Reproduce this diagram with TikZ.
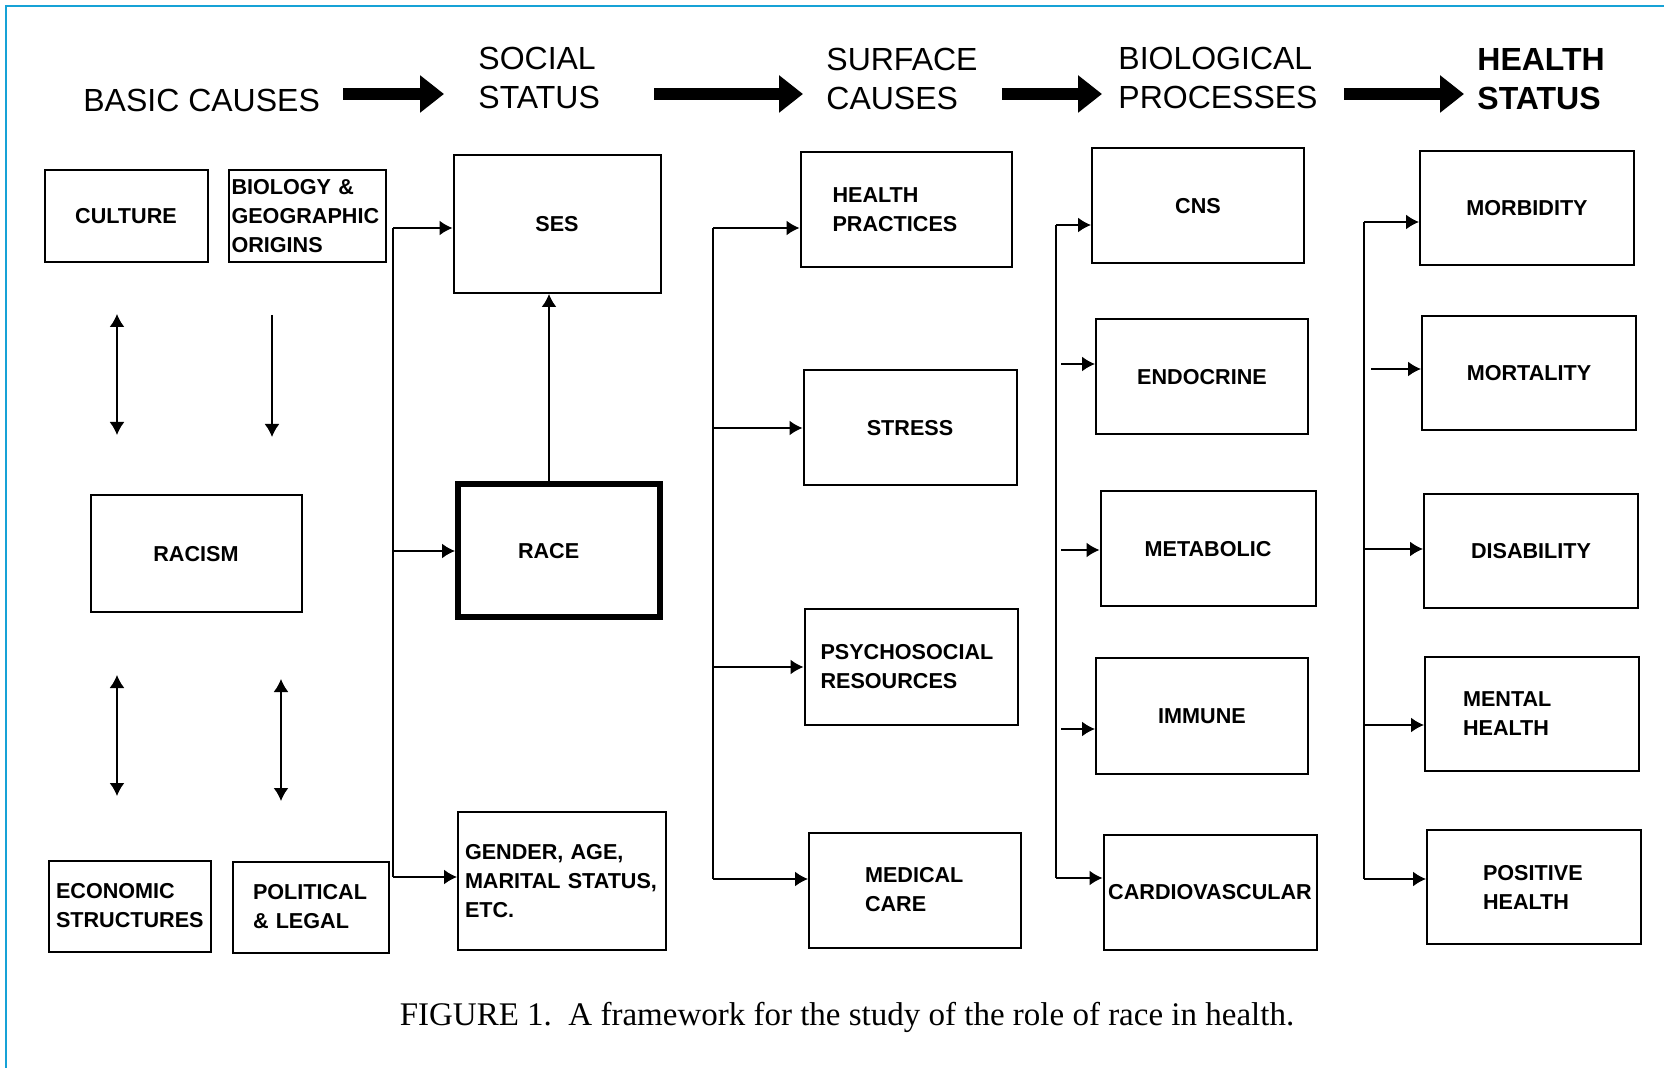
\documentclass[tikz,border=0pt]{standalone}
\usepackage{fontspec}
\setmainfont{Liberation Sans}
\newfontfamily\captionfont{Liberation Serif}
\usepackage{tikz}
\usetikzlibrary{shapes, arrows, arrows.meta, positioning}
\usepackage{xcolor}
\definecolor{framecyan}{RGB}{22,162,214}

\begin{document}
\begin{tikzpicture}[x=0.5pt, y=-0.5pt]
            \tikzstyle{entity} = [rectangle, minimum width=106pt, minimum height=57.5pt, text centered, draw=black, line width=1pt, font=\bfseries\fontsize{10.8}{14.5}\selectfont]
            \tikzstyle{cause} = [entity, minimum width=80pt, minimum height=46pt]
            \tikzstyle{outcome} = [entity, minimum width=107pt, minimum height=57pt]
            \tikzstyle{heading} = [inner sep=0pt, anchor=west, align=left, font=\fontsize{16}{19.5}\selectfont]
            \tikzstyle{arrow} = [line width=0.9pt, ->, >={Latex[length=6.5pt, width=7.5pt]}]
            \tikzstyle{bus} = [line width=0.9pt]
            \tikzstyle{bigarrow} = [line width=6pt, ->, >={Triangle[length=12pt, width=18pt]}]

            \useasboundingbox (0,0) rectangle (1664,1068);
            \draw [framecyan, line width=1.2pt] (6,1068) -- (6,6) -- (1664,6);

            \node (basic)[heading] at (83,100) {BASIC CAUSES};
            \node (social)[heading] at (478,77.5) {SOCIAL\\STATUS};
            \node (surface)[heading] at (826,79) {SURFACE\\CAUSES};
            \node (bio)[heading] at (1118,77.5) {BIOLOGICAL\\PROCESSES};
            \node (health)[heading, font=\bfseries\fontsize{16}{19.5}\selectfont] at (1477,79) {HEALTH\\STATUS};
            \coordinate (arrowline) at (0,94);
            \draw [bigarrow, shorten <=11.5pt, shorten >=17pt] (basic.east |- arrowline) -- (social.west |- arrowline);
            \draw [bigarrow, shorten <=27pt, shorten >=11.5pt] (social.east |- arrowline) -- (surface.west |- arrowline);
            \draw [bigarrow, shorten <=12pt, shorten >=8pt] (surface.east |- arrowline) -- (bio.west |- arrowline);
            \draw [bigarrow, shorten <=13pt, shorten >=6.5pt] (bio.east |- arrowline) -- (health.west |- arrowline);

            \node (culture)[cause, minimum width=81.5pt] at (126,216) {CULTURE};
            \node (biology)[cause, minimum width=78.5pt, align=left, text width=75.5pt, inner xsep=1.5pt] at (307,216) {BIOLOGY \&\\GEOGRAPHIC\\ORIGINS};
            \node (racism)[entity, minimum width=105.5pt, minimum height=58.5pt] at (196,554) {RACISM};
            \node (economic)[cause, minimum width=81pt, minimum height=45.5pt, align=left, text width=74pt, inner xsep=3.5pt] at (130,906) {ECONOMIC\\STRUCTURES};
            \node (political)[cause, minimum width=78pt, minimum height=45.5pt, align=left, text width=58pt, inner xsep=10pt] at (311,907) {POLITICAL\\\& LEGAL};
            \coordinate (cultureup) at (117,314);
            \coordinate (culturedown) at (117,435);
            \coordinate (originsup) at (272,315);
            \coordinate (originsdown) at (272,437);
            \coordinate (economyup) at (117,675);
            \coordinate (economydown) at (117,796);
            \coordinate (politicsup) at (281,679);
            \coordinate (politicsdown) at (281,801);
            \draw [arrow, <->] (cultureup) -- (culturedown);
            \draw [arrow] (originsup) -- (originsdown);
            \draw [arrow, <->] (economyup) -- (economydown);
            \draw [arrow, <->] (politicsup) -- (politicsdown);

            \node (ses)[entity, minimum width=103.5pt, minimum height=69pt] at (557,224) {SES};
            \node (race)[entity, line width=3pt, minimum width=101pt, minimum height=66.5pt, align=left, text width=41pt, inner xsep=30pt] at (559,551) {RACE};
            \node (gender)[entity, minimum width=104pt, minimum height=69pt, align=left, text width=97pt, inner xsep=3.5pt] at (562,881) {GENDER, AGE,\\MARITAL STATUS,\\ETC.};
            \coordinate (statustop) at (393,228);
            \coordinate (statusbot) at (393,877);
            \draw [bus] (statustop) -- (statusbot);
            \draw [arrow] (statustop) -- (statustop -| ses.west);
            \draw [arrow] (statustop |- race.west) -- (race.west);
            \draw [arrow] (statusbot) -- (statusbot -| gender.west);
            \draw [arrow] ([xshift=-5pt]race.north) -- ([xshift=-5pt]race.north |- ses.south);

            \node (hp)[entity, minimum width=105.5pt, align=left, text width=73.5pt, inner xsep=16pt] at (906,210) {HEALTH\\PRACTICES};
            \node (stress)[entity, minimum width=106.5pt] at (910,428) {STRESS};
            \node (psych)[entity, minimum width=106.5pt, align=left, text width=90.5pt, inner xsep=8pt] at (911,667) {PSYCHOSOCIAL\\RESOURCES};
            \node (medical)[entity, align=left, text width=50pt, inner xsep=28pt] at (915,890) {MEDICAL\\CARE};
            \coordinate (surfacetop) at (713,228);
            \coordinate (surfacebot) at (713,879);
            \draw [bus] (surfacetop) -- (surfacebot);
            \draw [arrow] (surfacetop) -- (surfacetop -| hp.west);
            \draw [arrow] (surfacetop |- stress.west) -- (stress.west);
            \draw [arrow] (surfacetop |- psych.west) -- (psych.west);
            \draw [arrow] (surfacebot) -- (surfacebot -| medical.west);

            \node (cns)[entity] at (1198,206) {CNS};
            \node (endocrine)[entity] at (1202,377) {ENDOCRINE};
            \node (metabolic)[entity, minimum width=107.5pt] at (1208,549) {METABOLIC};
            \node (immune)[entity] at (1202,716) {IMMUNE};
            \node (cardio)[entity, minimum width=106.5pt, inner xsep=1.5pt] at (1210,892) {CARDIOVASCULAR};
            \coordinate (biotop) at (1056,225);
            \coordinate (biobot) at (1056,878);
            \coordinate (endoin) at (1061,364);
            \coordinate (metain) at (1061,550);
            \coordinate (immunein) at (1061,729);
            \draw [bus] (biotop) -- (biobot);
            \draw [arrow] (biotop) -- (biotop -| cns.west);
            \draw [arrow] (endoin) -- (endoin -| endocrine.west);
            \draw [arrow] (metain) -- (metain -| metabolic.west);
            \draw [arrow] (immunein) -- (immunein -| immune.west);
            \draw [arrow] (biobot) -- (biobot -| cardio.west);

            \node (morbidity)[outcome] at (1527,208) {MORBIDITY};
            \node (mortality)[outcome] at (1529,373) {MORTALITY};
            \node (disability)[outcome] at (1531,551) {DISABILITY};
            \node (mental)[outcome, align=left, text width=69pt, inner xsep=19pt] at (1532,714) {MENTAL\\HEALTH};
            \node (positive)[outcome, align=left, text width=51pt, inner xsep=28pt] at (1534,887) {POSITIVE\\HEALTH};
            \coordinate (healthtop) at (1364,222);
            \coordinate (healthbot) at (1364,879);
            \coordinate (mortin) at (1371,369);
            \coordinate (disin) at (1364,549);
            \coordinate (mentalin) at (1364,725);
            \draw [bus] (healthtop) -- (healthbot);
            \draw [arrow] (healthtop) -- (healthtop -| morbidity.west);
            \draw [arrow] (mortin) -- (mortin -| mortality.west);
            \draw [arrow] (disin) -- (disin -| disability.west);
            \draw [arrow] (mentalin) -- (mentalin -| mental.west);
            \draw [arrow] (healthbot) -- (healthbot -| positive.west);

            \node (caption)[font=\captionfont\fontsize{16.5}{20}\selectfont] at (847,1017) {FIGURE 1.\ \ A framework for the study of the role of race in health.};
        \end{tikzpicture}
\end{document}
